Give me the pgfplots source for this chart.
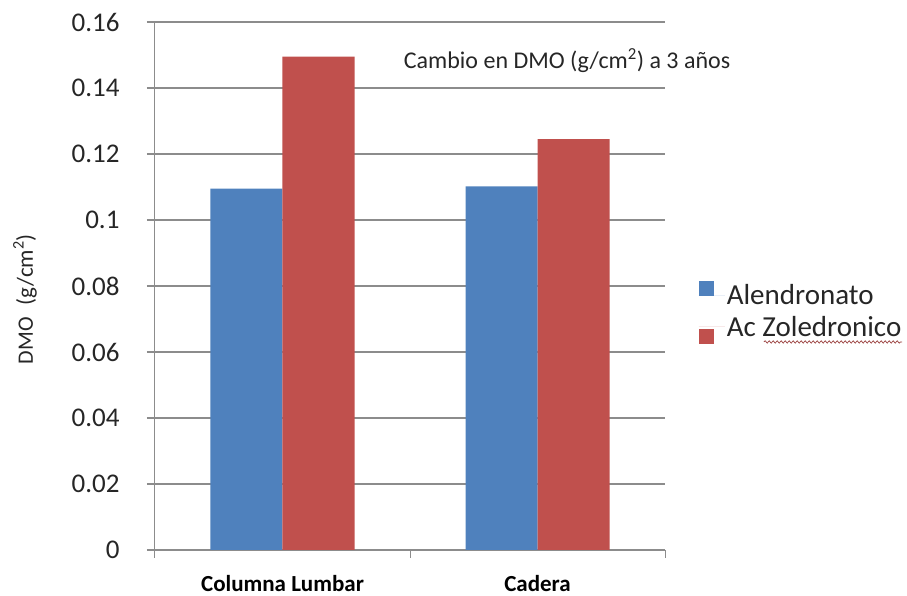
\documentclass[border=0pt]{standalone}
\usepackage{pgfplots}
\pgfplotsset{compat=1.18}
\usepackage{fontspec}
\setmainfont{Carlito}
\usetikzlibrary{decorations.pathmorphing}
\definecolor{bblue}{HTML}{4F81BD}
\definecolor{bred}{HTML}{C0504D}
\definecolor{gridg}{HTML}{8C8C8C}
\definecolor{txt}{HTML}{262626}
\begin{document}
\begin{tikzpicture}
\useasboundingbox (-155pt,-46pt) rectangle (752pt,550pt);
\begin{axis}[
  at={(0,0)}, anchor=south west,
  scale only axis, width=510pt, height=528pt,
  ybar=0pt, bar width=72pt,
  xmin=-0.5, xmax=1.5, ymin=0, ymax=0.16,
  xtick={0,1}, xticklabels={Columna Lumbar, Cadera},
  minor xtick={-0.5,0.5,1.5},
  ytick={0,0.02,0.04,0.06,0.08,0.1,0.12,0.14,0.16},
  yticklabels={0,0.02,0.04,0.06,0.08,0.1,0.12,0.14,0.16},
  scaled y ticks=false,
  axis lines=left, axis line style={-, draw=gridg, line width=1pt},
  ymajorgrids, grid style={draw=gridg, line width=1.2pt},
  tick align=outside, xtick pos=bottom, ytick pos=left,
  major tick length=8pt, minor tick length=8pt,
  major x tick style={draw=none},
  minor x tick style={draw=gridg, line width=1pt},
  major y tick style={draw=gridg, line width=1.2pt},
  yticklabel style={font=\fontsize{27}{30}\selectfont, text=txt, xshift=-24pt},
  xticklabel style={font=\fontsize{23}{26}\selectfont\bfseries, text=black, yshift=-14pt},
  /pgf/number format/assume math mode=true,
  legend style={draw=none, fill=none, at={(rel axis cs:1.06,0.45)}, anchor=west,
    font=\fontsize{29}{32}\selectfont, text=txt, row sep=6pt},
  legend cell align=left,
  clip=false,
]
\addplot[fill=bblue, draw=none, legend image code/.code={\fill[bblue] (0pt,-1pt) rectangle (15pt,14pt); \path (0pt,0pt) -- (26pt,0pt);}] coordinates {(0,0.1095) (1,0.1102)};
\addplot[fill=bred, draw=none, legend image code/.code={\fill[bred] (0pt,-17pt) rectangle (15pt,-2pt); \path (0pt,0pt) -- (26pt,0pt);}] coordinates {(0,0.1495) (1,0.1245)};
\legend{Alendronato, Ac Zoledronico}
\node[font=\fontsize{24}{27}\selectfont, text=txt] at (rel axis cs:0.808,0.926) {Cambio en DMO (g/cm\textsuperscript{2}) a 3 años};
\node[rotate=90, text=txt] at ([xshift=-130pt]rel axis cs:0,0.475) {{\fontsize{22}{24}\selectfont DMO}\hspace{12pt}{\fontsize{23}{25}\selectfont (g/cm\textsuperscript{2})}};
\draw[bred!80!black, line width=0.7pt, decorate, decoration={snake, amplitude=1.2pt, segment length=4pt}]
  (rel axis cs:1.194,0.394) -- (rel axis cs:1.465,0.394);
\end{axis}
\end{tikzpicture}
\end{document}
